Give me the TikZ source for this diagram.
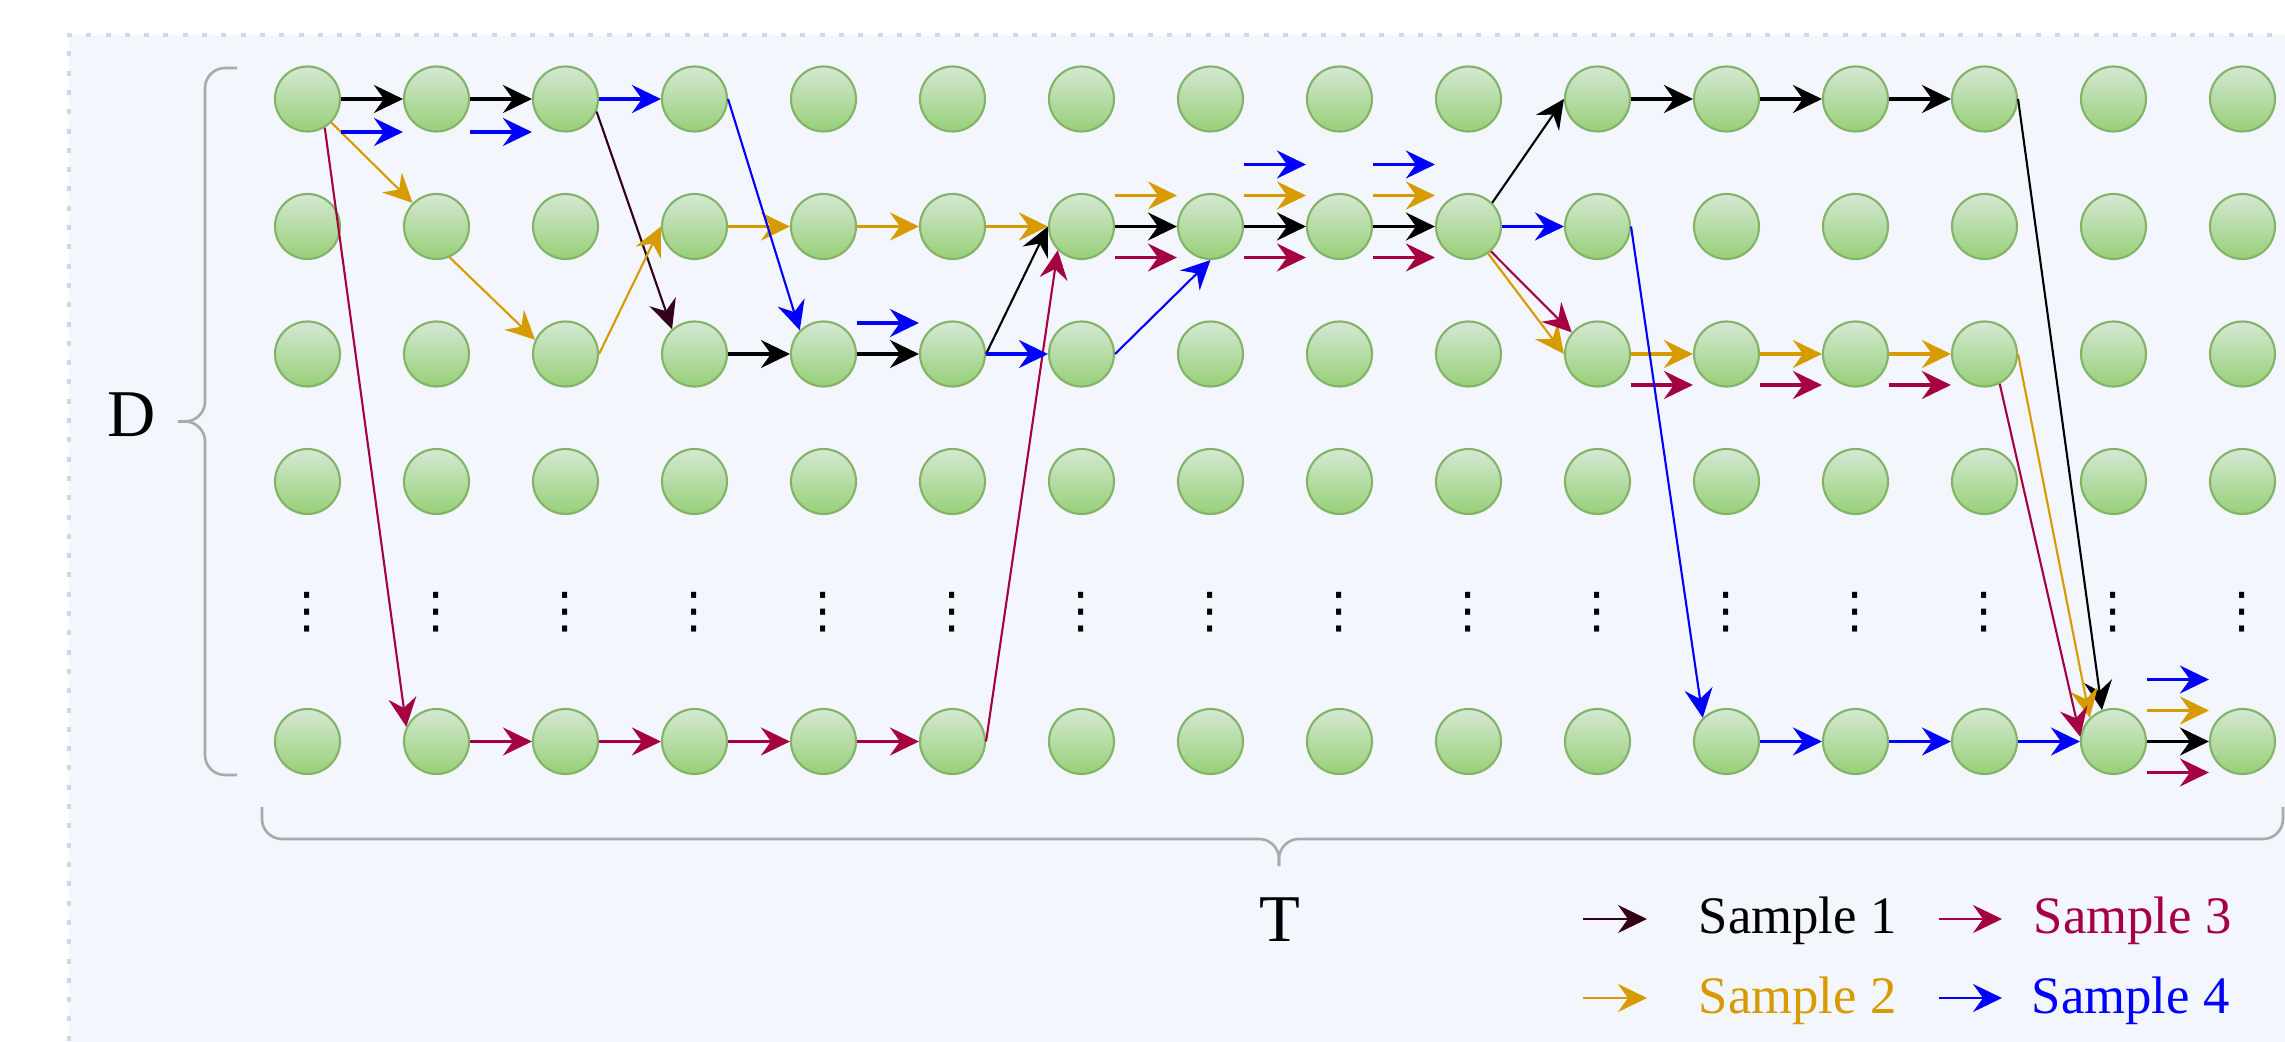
\documentclass[tikz,border=0pt]{standalone}
\usepackage{fontspec}
\setmainfont{Liberation Serif}
\newfontfamily\dotsfont{DejaVu Sans}
\usetikzlibrary{arrows.meta}

\definecolor{bgfill}{RGB}{243,246,253}
\definecolor{bgline}{RGB}{204,216,235}
\definecolor{celltop}{RGB}{213,232,212}
\definecolor{cellbot}{RGB}{151,208,119}
\definecolor{cellline}{RGB}{130,179,102}
\definecolor{bracegray}{RGB}{170,170,170}
\definecolor{sonedark}{RGB}{51,0,26}
\definecolor{stwo}{RGB}{215,155,0}
\definecolor{sthree}{RGB}{165,0,64}
\definecolor{sfour}{RGB}{0,0,255}

\tikzset{
    cell/.style={circle, draw=cellline, line width=0.6pt, top color=celltop,
                 bottom color=cellbot, minimum size=6.5mm, inner sep=0pt},
    hop/.style={line width=0.9pt, -{Stealth[length=2.9mm, width=2.8mm, inset=1mm]}},
    jump/.style={line width=0.6pt, -{Stealth[length=2.9mm, width=2.8mm, inset=1mm]}},
    brace/.style={draw=bracegray, line width=0.75pt, rounded corners=2mm},
    vdotsnode/.style={inner sep=0pt, font=\dotsfont\fontsize{14}{16}\selectfont},
    bigtext/.style={inner sep=0pt, font=\fontsize{19}{22}\selectfont},
    legtext/.style={anchor=base west, inner sep=0pt, font=\fontsize{15}{18}\selectfont},
}

\begin{document}
\begin{tikzpicture}
    \useasboundingbox (0,0) rectangle (22.85,-10.42);

    % Background
    \fill[bgfill] (0.69,-0.35) rectangle (23,-10.6);
    \draw[bgline, line width=1.4pt, dash pattern=on 0.05cm off 0.143cm] (0.69,-10.6) -- (0.69,-0.35) -- (23,-0.35);

    % Grid of states
    \foreach \r/\y in {1/-0.99, 2/-2.265, 3/-3.54, 4/-4.815, 5/-7.415}
        \foreach \c in {1,...,16}
            \node[cell] (n\r-\c) at ({3.075+1.29*(\c-1)},\y) {};
    \foreach \c in {1,...,16}
        \node[vdotsnode] (v\c) at ({3.075+1.29*(\c-1)},-6.12) {⋮};

    % Braces
    \draw[brace] (2.37,-0.68) -- (2.05,-0.68) -- (2.05,-4.215) -- (1.78,-4.215);
    \draw[brace] (2.37,-7.75) -- (2.05,-7.75) -- (2.05,-4.215) -- (1.78,-4.215);
    \draw[brace] (2.62,-8.07) -- (2.62,-8.39) -- (12.79,-8.39) -- (12.79,-8.66);
    \draw[brace] (22.83,-8.07) -- (22.83,-8.39) -- (12.79,-8.39) -- (12.79,-8.66);
    \node[bigtext, anchor=base west] (dlab) at (1.07,-4.36) {D};
    \node[bigtext, anchor=base] (tlab) at (12.8,-9.41) {T};

    % Sample 1
    \foreach \a/\b in {1-1/1-2, 1-2/1-3, 3-4/3-5, 3-5/3-6, 2-7/2-8, 2-8/2-9, 2-9/2-10,
                       1-11/1-12, 1-12/1-13, 1-13/1-14, 5-15/5-16}
        \draw[hop, black] (n\a) -- (n\b);
    \draw[jump, sonedark] (n1-3.-22) -- (n3-4.132);
    \draw[jump, black] (n3-6.east) -- (n2-7.west);
    \draw[jump, black] (n2-10.north east) -- (n1-11.west);
    \draw[jump, black] (n1-14.east) -- (n5-15.110);

    % Sample 2
    \foreach \a/\b in {2-4/2-5, 2-5/2-6, 2-6/2-7, 3-11/3-12, 3-12/3-13, 3-13/3-14}
        \draw[hop, stwo] (n\a) -- (n\b);
    \foreach \a/\b in {2-7/2-8, 2-8/2-9, 2-9/2-10, 5-15/5-16}
        \draw[hop, stwo] ([yshift=3.1mm]n\a.east) -- ([yshift=3.1mm]n\b.west);
    \draw[jump, stwo] (n1-1) -- (n2-2);
    \draw[jump, stwo] (n2-2.-67) -- (n3-3.155);
    \draw[jump, stwo] (n3-3.east) -- (n2-4.west);
    \draw[jump, stwo] (n2-10.-54) -- (n3-11.west);
    \draw[jump, stwo] (n3-14.east) -- (n5-15.north west);

    % Sample 3
    \foreach \a/\b in {5-2/5-3, 5-3/5-4, 5-4/5-5, 5-5/5-6}
        \draw[hop, sthree] (n\a) -- (n\b);
    \foreach \a/\b in {2-7/2-8, 2-8/2-9, 2-9/2-10, 3-11/3-12, 3-12/3-13, 3-13/3-14, 5-15/5-16}
        \draw[hop, sthree] ([yshift=-3.1mm]n\a.east) -- ([yshift=-3.1mm]n\b.west);
    \draw[jump, sthree] (n1-1.-59) -- (n5-2.154);
    \draw[jump, sthree] (n5-6.east) -- (n2-7.south west);
    \draw[jump, sthree] (n2-10.-48) -- (n3-11.140);
    \draw[jump, sthree] (n3-14.-63) -- (n5-15.172);

    % Sample 4
    \foreach \a/\b in {1-3/1-4, 3-6/3-7, 2-10/2-11, 5-12/5-13, 5-13/5-14, 5-14/5-15}
        \draw[hop, sfour] (n\a) -- (n\b);
    \foreach \a/\b in {1-1/1-2, 1-2/1-3}
        \draw[hop, sfour] ([yshift=-3.3mm]n\a.east) -- ([yshift=-3.3mm]n\b.west);
    \draw[hop, sfour] ([yshift=3.1mm]n3-5.east) -- ([yshift=3.1mm]n3-6.west);
    \foreach \a/\b in {2-8/2-9, 2-9/2-10, 5-15/5-16}
        \draw[hop, sfour] ([yshift=6.2mm]n\a.east) -- ([yshift=6.2mm]n\b.west);
    \draw[jump, sfour] (n1-4.east) -- (n3-5.north west);
    \draw[jump, sfour] (n3-7.east) -- (n2-8.south);
    \draw[jump, sfour] (n2-11.east) -- (n5-12.north west);

    % Legend
    \node[legtext] (l1) at (16.98,-9.33) {Sample 1};
    \node[legtext, sthree] (l3) at (20.33,-9.33) {Sample 3};
    \node[legtext, stwo] (l2) at (16.98,-10.13) {Sample 2};
    \node[legtext, sfour] (l4) at (20.31,-10.13) {Sample 4};
    \draw[jump, sonedark] ([shift={(-1.15,0.14)}]l1.base west) -- ([shift={(-0.51,0.14)}]l1.base west);
    \draw[jump, stwo] ([shift={(-1.15,0.15)}]l2.base west) -- ([shift={(-0.51,0.15)}]l2.base west);
    \draw[jump, sthree] ([shift={(-0.94,0.14)}]l3.base west) -- ([shift={(-0.31,0.14)}]l3.base west);
    \draw[jump, sfour] ([shift={(-0.92,0.15)}]l4.base west) -- ([shift={(-0.29,0.15)}]l4.base west);
\end{tikzpicture}
\end{document}
